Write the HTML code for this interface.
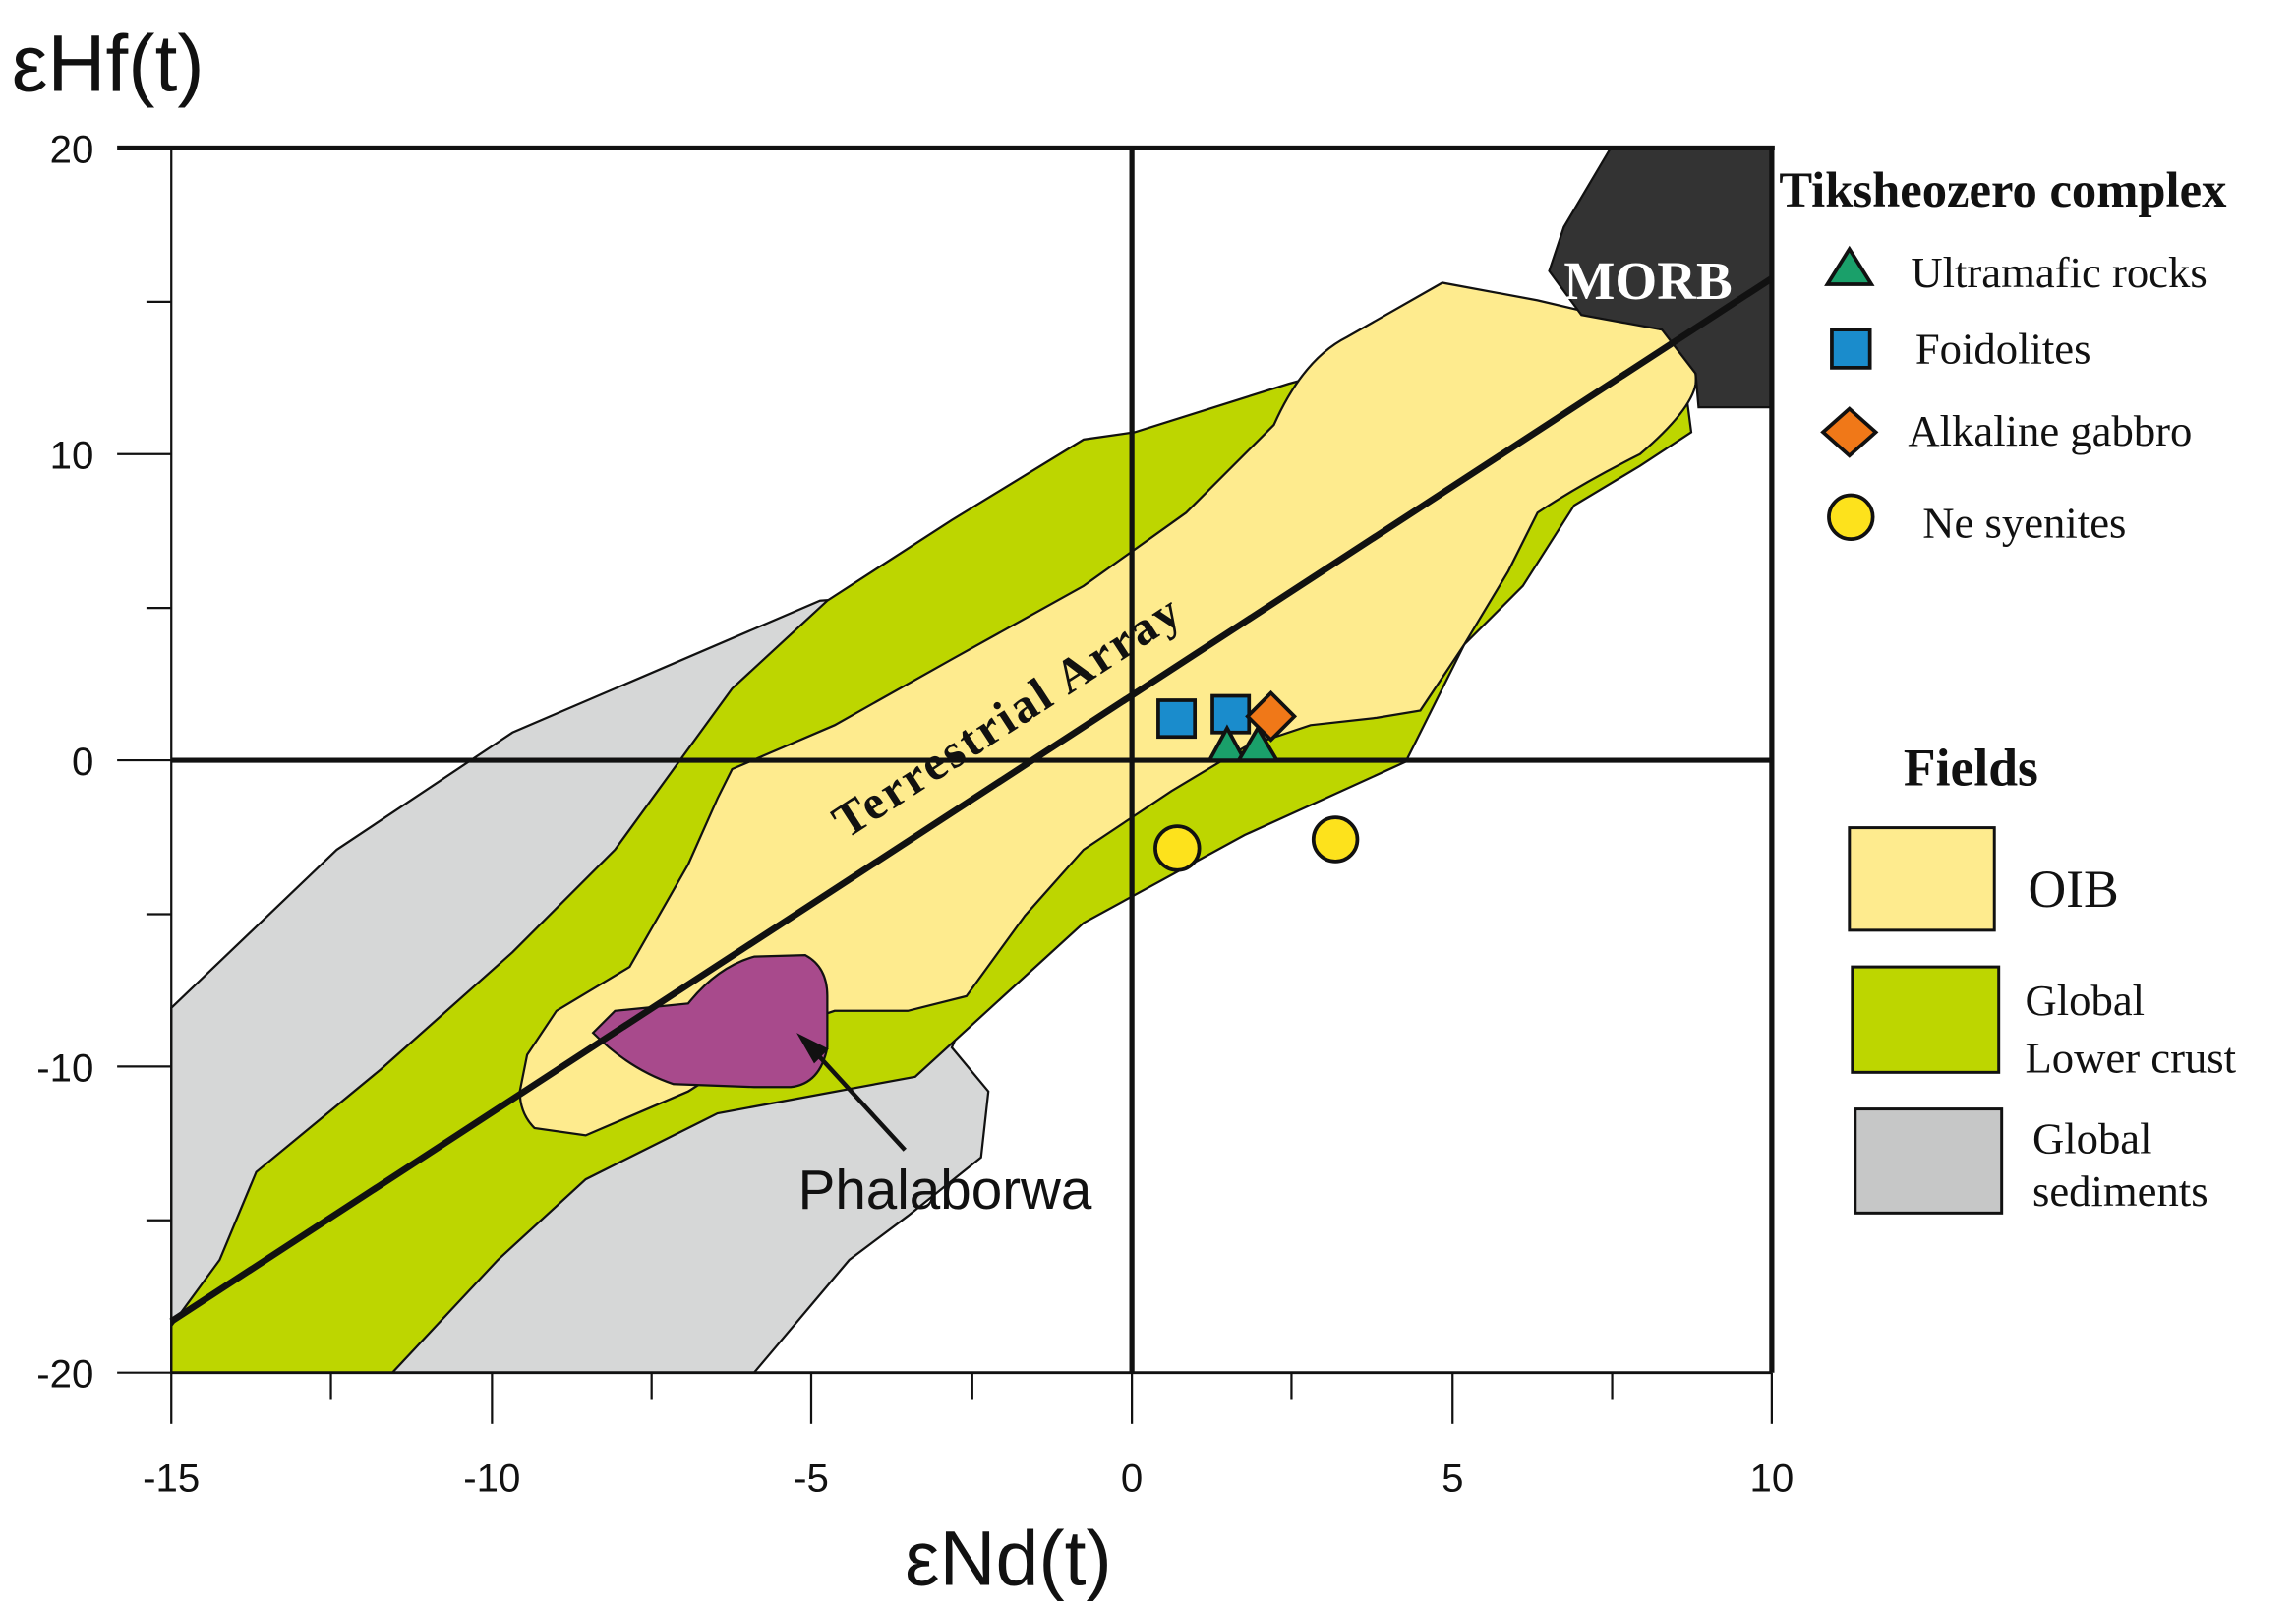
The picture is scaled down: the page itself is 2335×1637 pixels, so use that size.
<!DOCTYPE html>
<html><head><meta charset="utf-8"><style>
html,body{margin:0;padding:0;background:#fff;}
svg{display:block;}
</style></head><body>
<svg width="2335" height="1637" viewBox="0 0 1568 1099" preserveAspectRatio="none" xmlns="http://www.w3.org/2000/svg">
<rect width="1568" height="1099" fill="#fff"/>
<polygon points="117,688 230,580 350,500 560,410 700,400 700,600 650,715 675,745 670,790 620,830 580,860 515,937 117,937" fill="#d6d7d7" stroke="#111" stroke-width="1.5"/>
<polygon points="117,905 150,860 175,800 260,730 350,650 420,580 500,470 565,410 650,355 740,300 775,295 880,262 960,240 1100,240 1152,272 1155,295 1120,318 1075,345 1040,400 1000,440 960,520 850,570 740,630 625,735 490,760 400,805 340,860 268,937 117,937" fill="#bdd600" stroke="#111" stroke-width="1.5"/>
<path d="M360,720 L380,690 L430,660 L470,590 L490,545 L500,525 L570,495 L650,450 L740,400 L810,350 L870,290 Q890,245 920,230 L985,193 L1050,205 L1135,225 Q1160,240 1158,262 Q1155,280 1120,310 Q1080,330 1050,350 L1030,390 L1000,440 L970,485 L940,490 L895,495 L850,510 L800,540 L740,580 L700,625 L660,680 L620,690 L570,690 L540,700 L470,745 L400,775 L365,770 Q355,760 355,745 Z" fill="#feeb8e" stroke="#111" stroke-width="1.5"/>
<path d="M405,705 L420,690 L470,685 Q490,660 515,653 L550,652 Q565,660 565,680 L565,715 Q560,740 540,742 L515,742 L460,740 Q430,730 405,705 Z" fill="#a84a8c" stroke="#111" stroke-width="1.5"/>
<polygon points="1058,185 1068,155 1100,101 1210,101 1210,278 1160,278 1158,255 1135,225 1080,215" fill="#333" stroke="#111" stroke-width="1.5"/>
<line x1="117" y1="101" x2="117" y2="937" stroke="#111" stroke-width="1.5"/>
<line x1="80" y1="101" x2="1212" y2="101" stroke="#111" stroke-width="3.5"/>
<line x1="1210" y1="100" x2="1210" y2="937" stroke="#111" stroke-width="3.5"/>
<line x1="117" y1="937" x2="1210" y2="937" stroke="#111" stroke-width="2"/>
<line x1="773" y1="101" x2="773" y2="937" stroke="#111" stroke-width="3.5"/>
<line x1="117" y1="519" x2="1210" y2="519" stroke="#111" stroke-width="3.5"/>
<g stroke="#111" stroke-width="1.5">
<line x1="80" y1="937" x2="117" y2="937"/>
<line x1="80" y1="728" x2="117" y2="728"/>
<line x1="80" y1="519" x2="117" y2="519"/>
<line x1="80" y1="310" x2="117" y2="310"/>
<line x1="100" y1="206" x2="117" y2="206"/>
<line x1="100" y1="415" x2="117" y2="415"/>
<line x1="100" y1="624" x2="117" y2="624"/>
<line x1="100" y1="833" x2="117" y2="833"/>
<line x1="117" y1="937" x2="117" y2="972"/>
<line x1="336" y1="937" x2="336" y2="972"/>
<line x1="554" y1="937" x2="554" y2="972"/>
<line x1="773" y1="937" x2="773" y2="972"/>
<line x1="992" y1="937" x2="992" y2="972"/>
<line x1="1210" y1="937" x2="1210" y2="972"/>
<line x1="226" y1="937" x2="226" y2="955"/>
<line x1="445" y1="937" x2="445" y2="955"/>
<line x1="664" y1="937" x2="664" y2="955"/>
<line x1="882" y1="937" x2="882" y2="955"/>
<line x1="1101" y1="937" x2="1101" y2="955"/>
</g>
<g font-family="Liberation Sans, sans-serif" font-size="27" fill="#111">
<text x="64" y="111" text-anchor="end">20</text>
<text x="64" y="320" text-anchor="end">10</text>
<text x="64" y="529" text-anchor="end">0</text>
<text x="64" y="738" text-anchor="end">-10</text>
<text x="64" y="947" text-anchor="end">-20</text>
<text x="117" y="1018" text-anchor="middle">-15</text>
<text x="336" y="1018" text-anchor="middle">-10</text>
<text x="554" y="1018" text-anchor="middle">-5</text>
<text x="773" y="1018" text-anchor="middle">0</text>
<text x="992" y="1018" text-anchor="middle">5</text>
<text x="1210" y="1018" text-anchor="middle">10</text>
</g>
<text x="8" y="62" font-family="Liberation Sans, sans-serif" font-size="55" fill="#111">εHf(t)</text>
<text x="618" y="1082" font-family="Liberation Sans, sans-serif" font-size="53" fill="#111">εNd(t)</text>
<line x1="117" y1="902" x2="1210" y2="190" stroke="#111" stroke-width="4.5"/>
<text transform="translate(578,573) rotate(-33)" font-family="Liberation Serif, serif" font-weight="bold" font-size="33" letter-spacing="2" fill="#111">Terrestrial Array</text>
<text x="1068" y="204" font-family="Liberation Serif, serif" font-weight="bold" font-size="37" fill="#fff">MORB</text>
<line x1="618" y1="785" x2="552" y2="713" stroke="#111" stroke-width="3"/>
<polygon points="544,705 566,716 556,726" fill="#111"/>
<text x="545" y="825" font-family="Liberation Sans, sans-serif" font-size="38" fill="#111">Phalaborwa</text>
<rect x="791" y="478" width="25" height="25" fill="#1a8ccc" stroke="#111" stroke-width="2.5"/>
<rect x="828" y="475" width="25" height="25" fill="#1a8ccc" stroke="#111" stroke-width="2.5"/>
<polygon points="838,497 850,519 826,519" fill="#1aa06a" stroke="#111" stroke-width="2.5"/>
<polygon points="859,497 872,519 846,519" fill="#1aa06a" stroke="#111" stroke-width="2.5"/>
<polygon points="868,473 884,489 868,505 852,489" fill="#f07818" stroke="#111" stroke-width="2.5"/>
<circle cx="804" cy="579" r="15" fill="#fde21c" stroke="#111" stroke-width="2.5"/>
<circle cx="912" cy="573" r="15" fill="#fde21c" stroke="#111" stroke-width="2.5"/>
<g font-family="Liberation Serif, serif" fill="#111">
<text x="1215" y="141" font-size="34" font-weight="bold">Tiksheozero complex</text>
<polygon points="1263,170 1278,194 1248,194" fill="#1aa06a" stroke="#111" stroke-width="2.5"/>
<text x="1305" y="196" font-size="30">Ultramafic rocks</text>
<rect x="1251" y="225" width="26" height="26" fill="#1a8ccc" stroke="#111" stroke-width="2.5"/>
<text x="1308" y="248" font-size="30">Foidolites</text>
<polygon points="1263,279 1281,295 1263,311 1245,295" fill="#f07818" stroke="#111" stroke-width="2.5"/>
<text x="1303" y="304" font-size="30">Alkaline gabbro</text>
<circle cx="1264" cy="353" r="15" fill="#fde21c" stroke="#111" stroke-width="2.5"/>
<text x="1313" y="367" font-size="30">Ne syenites</text>
<text x="1300" y="536" font-size="36" font-weight="bold">Fields</text>
<rect x="1263" y="565" width="99" height="70" fill="#feeb8e" stroke="#111" stroke-width="2"/>
<text x="1385" y="619" font-size="36">OIB</text>
<rect x="1265" y="660" width="100" height="72" fill="#bdd600" stroke="#111" stroke-width="2"/>
<text x="1383" y="693" font-size="30">Global</text>
<text x="1383" y="732" font-size="30">Lower crust</text>
<rect x="1267" y="757" width="100" height="71" fill="#c6c7c7" stroke="#111" stroke-width="2"/>
<text x="1388" y="787" font-size="30">Global</text>
<text x="1388" y="823" font-size="30">sediments</text>
</g>
</svg>
</body></html>
